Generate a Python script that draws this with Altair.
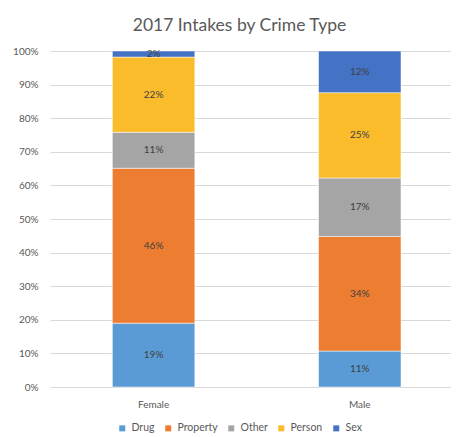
import altair as alt
import pandas as pd

genders = ["Female", "Male"]
crime_types = ["Drug", "Property", "Other", "Person", "Sex"]
female_pct = [19.0, 46.1, 10.7, 22.4, 1.8]
male_pct = [10.7, 34.1, 17.4, 25.4, 12.4]
colors = ["#5B9BD5", "#ED7D31", "#A5A5A5", "#FBBC2C", "#4472C4"]
y_ticks = [0, 10, 20, 30, 40, 50, 60, 70, 80, 90, 100]

rows = []
for g, vals in zip(genders, [female_pct, male_pct]):
    for i, (c, v) in enumerate(zip(crime_types, vals)):
        rows.append({"gender": g, "crime": c, "value": v, "order": i,
                     "label": f"{round(v)}%"})
df = pd.DataFrame(rows)

FONT = "Lato"

base = alt.Chart(df).transform_stack(
    stack="value", as_=["y0", "y1"], groupby=["gender"],
    sort=[alt.SortField("order", order="ascending")]
).transform_calculate(mid="(datum.y0 + datum.y1) / 2")

x_scale = alt.Scale(paddingInner=0.6, paddingOuter=0.2725, align=0.555)
x_axis = alt.Axis(labelAngle=0, labelColor="#595959", labelFontSize=10,
                  labelFont=FONT, labelPadding=12, ticks=False,
                  domainColor="#D9D9D9", domainWidth=1)
y_scale = alt.Scale(domain=[0, 100], nice=False)
y_axis = alt.Axis(values=y_ticks, tickCount=11,
                  labelExpr="datum.value + '%'", labelOverlap=False,
                  labelColor="#595959", labelFontSize=10, labelFont=FONT,
                  labelPadding=12, ticks=False, domain=False,
                  grid=True, gridColor="#D9D9D9", gridWidth=1)

bars = base.mark_bar(stroke="white", strokeWidth=0.5).encode(
    x=alt.X("gender:N", sort=genders, title=None, scale=x_scale, axis=x_axis),
    y=alt.Y("y0:Q", title=None, scale=y_scale, axis=y_axis),
    y2="y1:Q",
    color=alt.Color("crime:N", sort=crime_types,
                    scale=alt.Scale(domain=crime_types, range=colors),
                    legend=alt.Legend(title=None, orient="none", direction="horizontal",
                                      legendX=67, legendY=372, columns=5,
                                      symbolType="square", symbolSize=36,
                                      symbolStrokeWidth=0, labelFont=FONT,
                                      labelFontSize=10.5, labelColor="#595959",
                                      labelOffset=4, columnPadding=8, padding=0)),
    order=alt.Order("order:Q"),
)

labels = base.mark_text(font=FONT, fontSize=10, color="#404040").encode(
    x=alt.X("gender:N", sort=genders, title=None, scale=x_scale, axis=x_axis),
    y=alt.Y("mid:Q", title=None, scale=y_scale, axis=y_axis),
    text="label:N",
)

chart = alt.layer(bars, labels).properties(
    width=401, height=336,
    title=alt.TitleParams("2017 Intakes by Crime Type", font=FONT, fontSize=17.5,
                          fontWeight="normal", color="#595959", anchor="middle",
                          dx=-11, offset=12),
    autosize=alt.AutoSizeParams(type="none"),
    padding={"left": 42, "top": 43, "right": 0, "bottom": 48},
).configure_view(stroke=None)

chart.save("out.html", embed_options={"renderer": "svg", "actions": False})
